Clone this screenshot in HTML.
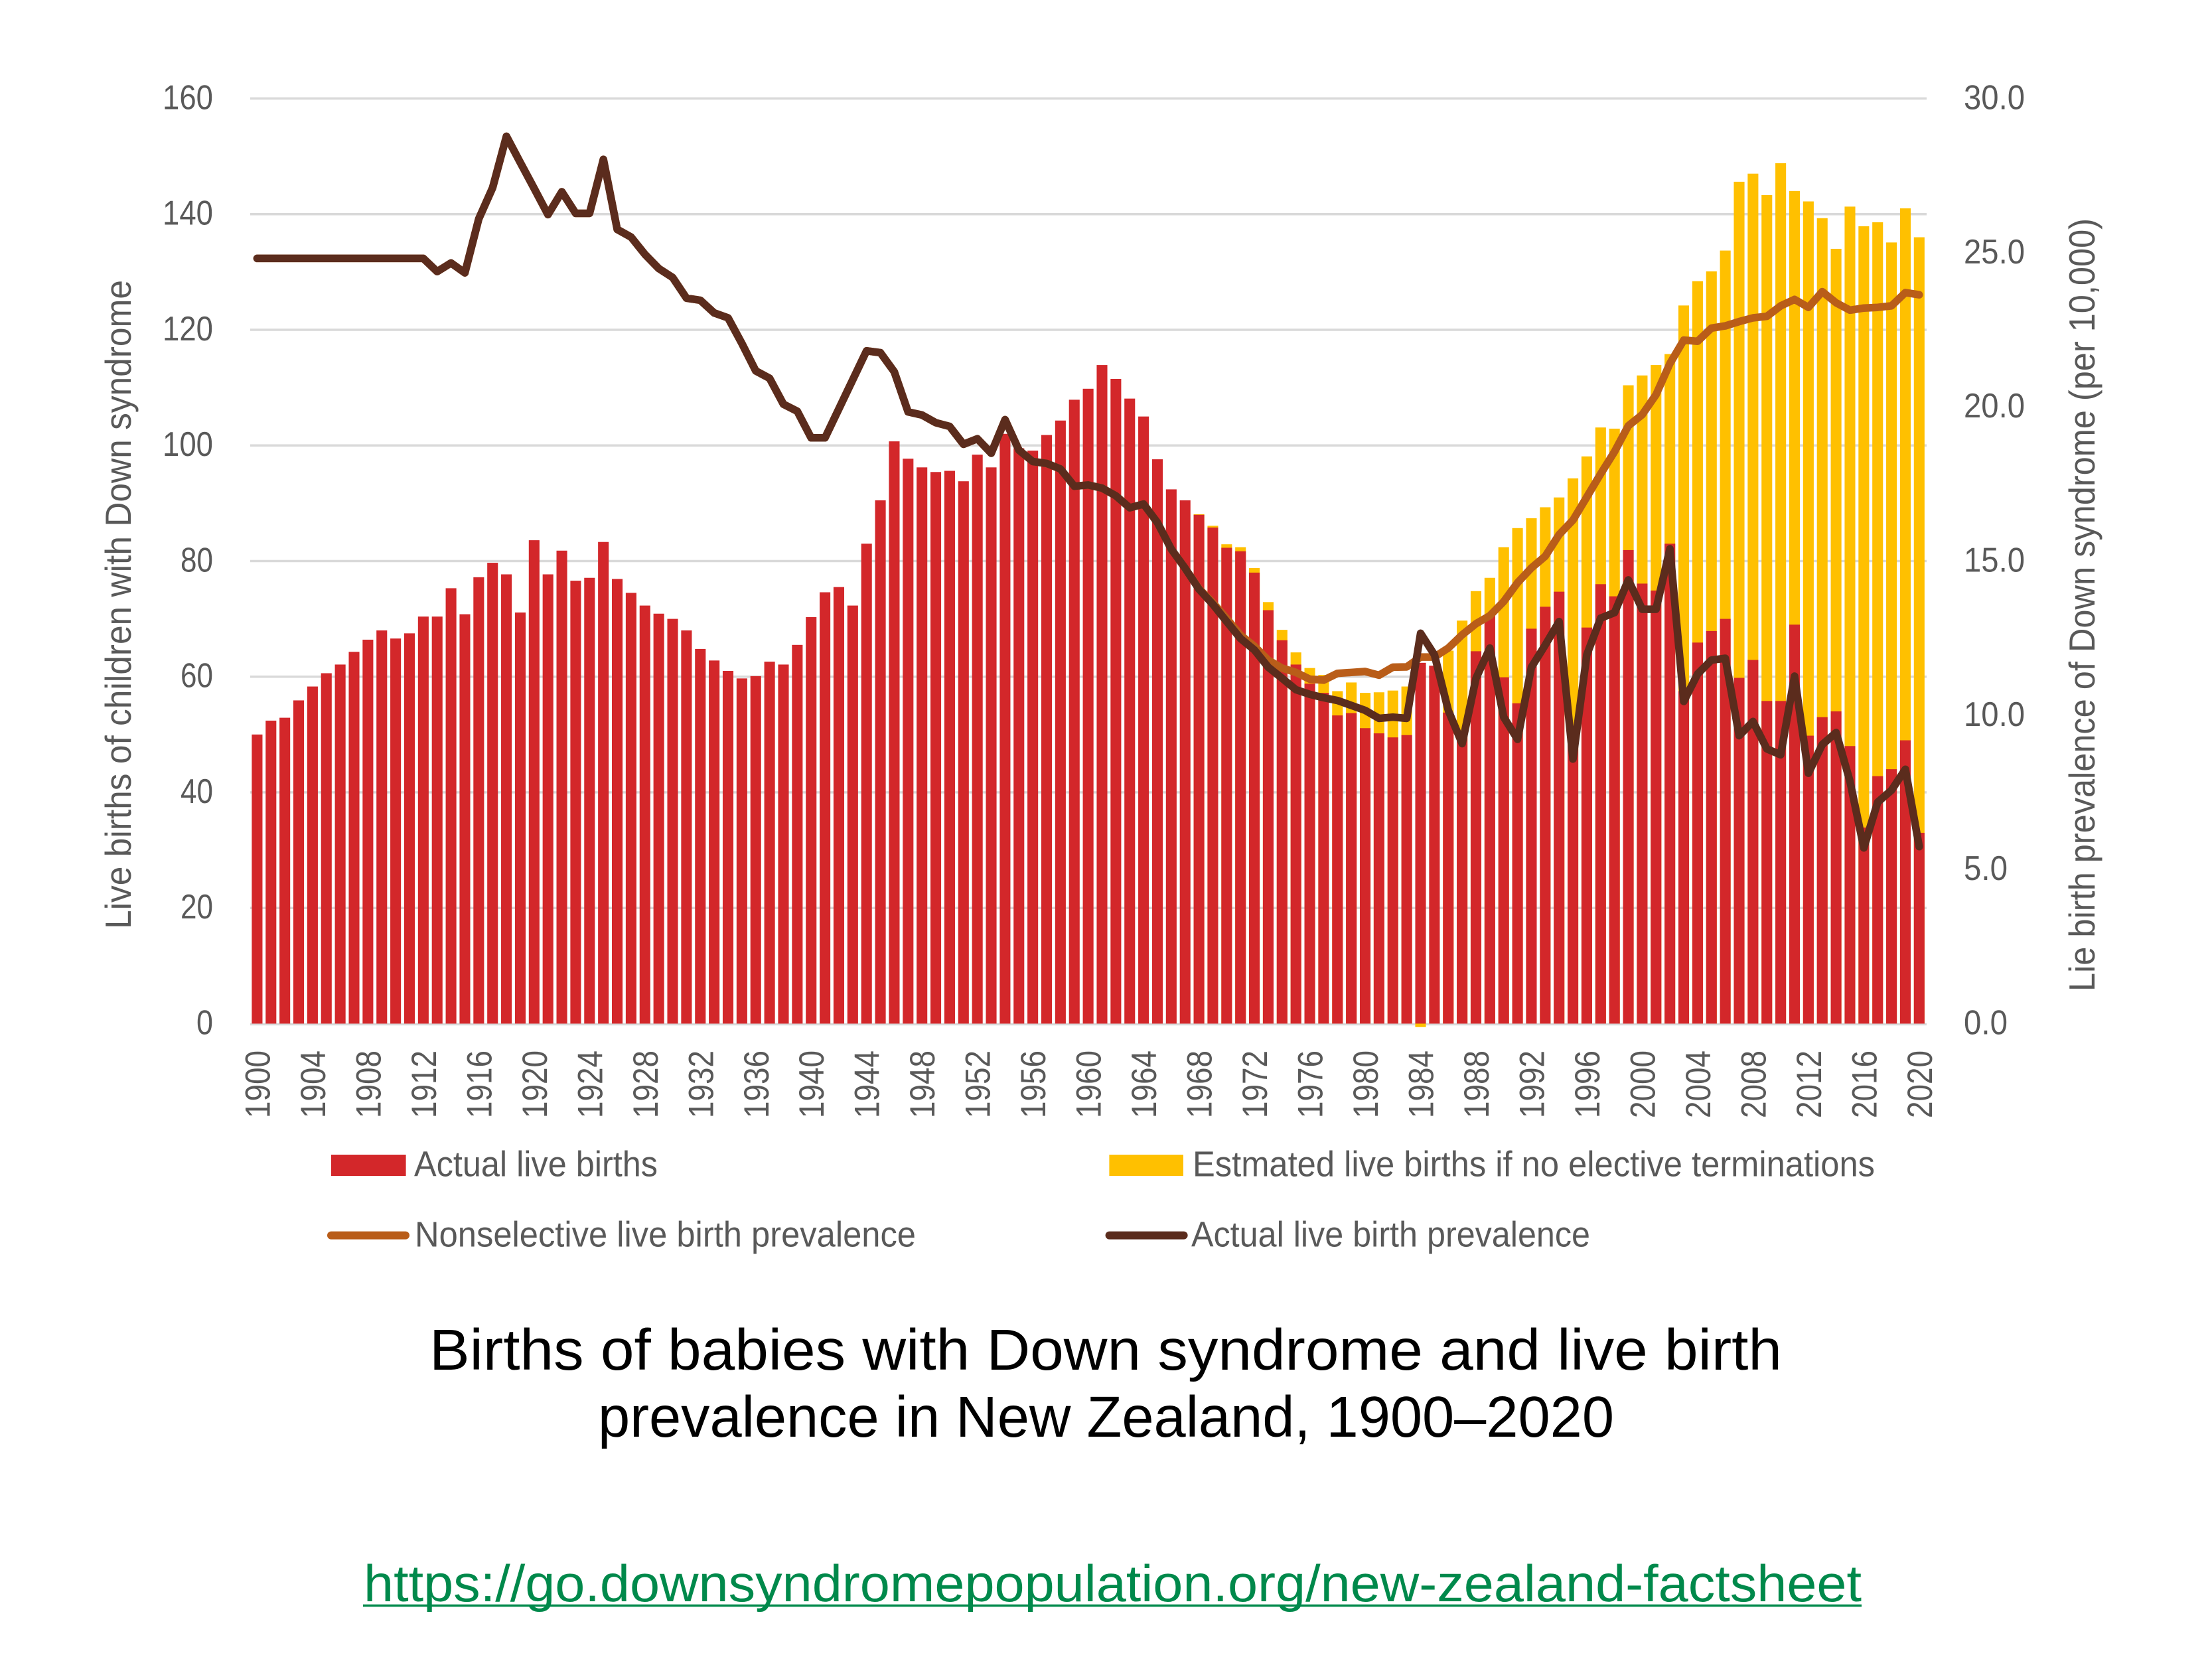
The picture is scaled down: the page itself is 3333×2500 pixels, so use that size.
<!DOCTYPE html>
<html><head><meta charset="utf-8"><style>
html,body{margin:0;padding:0;background:#fff}
svg{display:block}
text{font-family:"Liberation Sans",sans-serif}
.tk{font-size:52px;fill:#595959}
.yr{font-size:53px;fill:#595959}
.lg{font-size:54px;fill:#595959}
.at{font-size:55px;fill:#595959}
</style></head><body>
<svg width="3333" height="2500" viewBox="0 0 3333 2500" xmlns="http://www.w3.org/2000/svg">
<rect width="3333" height="2500" fill="#fff"/>
<!-- gridlines -->
<g stroke="#d9d9d9" stroke-width="3.5">
<line x1="377" x2="2903" y1="148.4" y2="148.4"/>
<line x1="377" x2="2903" y1="322.7" y2="322.7"/>
<line x1="377" x2="2903" y1="497" y2="497"/>
<line x1="377" x2="2903" y1="671.2" y2="671.2"/>
<line x1="377" x2="2903" y1="845.5" y2="845.5"/>
<line x1="377" x2="2903" y1="1019.7" y2="1019.7"/>
<line x1="377" x2="2903" y1="1194" y2="1194"/>
<line x1="377" x2="2903" y1="1368.2" y2="1368.2"/>
<line x1="377" x2="2903" y1="1543.5" y2="1543.5"/>
</g>
<!-- bars -->
<g transform="translate(377 1542.5) scale(20.87 -8.713)">
<g fill="#ffc000">
<rect x="68.114" width=".771" height="88.1"/><rect x="69.114" width=".771" height="86.1"/><rect x="70.114" width=".771" height="82.9"/><rect x="71.114" width=".771" height="82.4"/><rect x="72.114" width=".771" height="78.8"/><rect x="73.114" width=".771" height="72.9"/><rect x="74.114" width=".771" height="68.1"/><rect x="75.114" width=".771" height="64.2"/><rect x="76.114" width=".771" height="61.5"/><rect x="77.114" width=".771" height="60.3"/><rect x="78.114" width=".771" height="57.5"/><rect x="79.114" width=".771" height="59.0"/><rect x="80.114" width=".771" height="57.2"/><rect x="81.114" width=".771" height="57.3"/><rect x="82.114" width=".771" height="57.6"/><rect x="83.114" width=".771" height="58.3"/><rect x="84.114" y="-0.6" width=".771" height="0.6"/><rect x="86.114" width=".771" height="64.5"/><rect x="87.114" width=".771" height="69.7"/><rect x="88.114" width=".771" height="74.8"/><rect x="89.114" width=".771" height="77.1"/><rect x="90.114" width=".771" height="82.4"/><rect x="91.114" width=".771" height="85.7"/><rect x="92.114" width=".771" height="87.4"/><rect x="93.114" width=".771" height="89.3"/><rect x="94.114" width=".771" height="91.0"/><rect x="95.114" width=".771" height="94.3"/><rect x="96.114" width=".771" height="98.1"/><rect x="97.114" width=".771" height="103.1"/><rect x="98.114" width=".771" height="102.9"/><rect x="99.114" width=".771" height="110.4"/><rect x="100.114" width=".771" height="112.1"/><rect x="101.114" width=".771" height="113.9"/><rect x="102.114" width=".771" height="115.8"/><rect x="103.114" width=".771" height="124.2"/><rect x="104.114" width=".771" height="128.4"/><rect x="105.114" width=".771" height="130.1"/><rect x="106.114" width=".771" height="133.7"/><rect x="107.114" width=".771" height="145.6"/><rect x="108.114" width=".771" height="147.0"/><rect x="109.114" width=".771" height="143.3"/><rect x="110.114" width=".771" height="148.8"/><rect x="111.114" width=".771" height="144.0"/><rect x="112.114" width=".771" height="142.2"/><rect x="113.114" width=".771" height="139.3"/><rect x="114.114" width=".771" height="134.0"/><rect x="115.114" width=".771" height="141.3"/><rect x="116.114" width=".771" height="137.9"/><rect x="117.114" width=".771" height="138.6"/><rect x="118.114" width=".771" height="135.1"/><rect x="119.114" width=".771" height="141.0"/><rect x="120.114" width=".771" height="136.0"/>
</g>
<g fill="#d3272a">
<rect x="0.114" width=".771" height="50.0"/><rect x="1.114" width=".771" height="52.4"/><rect x="2.114" width=".771" height="52.9"/><rect x="3.114" width=".771" height="55.9"/><rect x="4.114" width=".771" height="58.3"/><rect x="5.114" width=".771" height="60.6"/><rect x="6.114" width=".771" height="62.1"/><rect x="7.114" width=".771" height="64.3"/><rect x="8.114" width=".771" height="66.4"/><rect x="9.114" width=".771" height="68.0"/>
<rect x="10.114" width=".771" height="66.6"/><rect x="11.114" width=".771" height="67.5"/><rect x="12.114" width=".771" height="70.4"/><rect x="13.114" width=".771" height="70.4"/><rect x="14.114" width=".771" height="75.3"/><rect x="15.114" width=".771" height="70.8"/><rect x="16.114" width=".771" height="77.2"/><rect x="17.114" width=".771" height="79.7"/><rect x="18.114" width=".771" height="77.7"/><rect x="19.114" width=".771" height="71.1"/>
<rect x="20.114" width=".771" height="83.6"/><rect x="21.114" width=".771" height="77.7"/><rect x="22.114" width=".771" height="81.8"/><rect x="23.114" width=".771" height="76.6"/><rect x="24.114" width=".771" height="77.1"/><rect x="25.114" width=".771" height="83.3"/><rect x="26.114" width=".771" height="76.9"/><rect x="27.114" width=".771" height="74.5"/><rect x="28.114" width=".771" height="72.3"/><rect x="29.114" width=".771" height="70.9"/>
<rect x="30.114" width=".771" height="70.0"/><rect x="31.114" width=".771" height="68.0"/><rect x="32.114" width=".771" height="64.8"/><rect x="33.114" width=".771" height="62.8"/><rect x="34.114" width=".771" height="61.0"/><rect x="35.114" width=".771" height="59.7"/><rect x="36.114" width=".771" height="60.1"/><rect x="37.114" width=".771" height="62.6"/><rect x="38.114" width=".771" height="62.1"/><rect x="39.114" width=".771" height="65.5"/>
<rect x="40.114" width=".771" height="70.3"/><rect x="41.114" width=".771" height="74.6"/><rect x="42.114" width=".771" height="75.5"/><rect x="43.114" width=".771" height="72.3"/><rect x="44.114" width=".771" height="83.0"/><rect x="45.114" width=".771" height="90.5"/><rect x="46.114" width=".771" height="100.7"/><rect x="47.114" width=".771" height="97.7"/><rect x="48.114" width=".771" height="96.2"/><rect x="49.114" width=".771" height="95.4"/>
<rect x="50.114" width=".771" height="95.6"/><rect x="51.114" width=".771" height="93.8"/><rect x="52.114" width=".771" height="98.4"/><rect x="53.114" width=".771" height="96.2"/><rect x="54.114" width=".771" height="102.0"/><rect x="55.114" width=".771" height="99.5"/><rect x="56.114" width=".771" height="99.1"/><rect x="57.114" width=".771" height="101.8"/><rect x="58.114" width=".771" height="104.3"/><rect x="59.114" width=".771" height="107.9"/>
<rect x="60.114" width=".771" height="109.8"/><rect x="61.114" width=".771" height="113.9"/><rect x="62.114" width=".771" height="111.5"/><rect x="63.114" width=".771" height="108.1"/><rect x="64.114" width=".771" height="105.0"/><rect x="65.114" width=".771" height="97.6"/><rect x="66.114" width=".771" height="92.4"/><rect x="67.114" width=".771" height="90.5"/><rect x="68.114" width=".771" height="88.0"/><rect x="69.114" width=".771" height="85.8"/>
<rect x="70.114" width=".771" height="82.3"/><rect x="71.114" width=".771" height="81.7"/><rect x="72.114" width=".771" height="78.0"/><rect x="73.114" width=".771" height="71.5"/><rect x="74.114" width=".771" height="66.3"/><rect x="75.114" width=".771" height="62.1"/><rect x="76.114" width=".771" height="58.8"/><rect x="77.114" width=".771" height="57.2"/><rect x="78.114" width=".771" height="53.3"/><rect x="79.114" width=".771" height="53.7"/>
<rect x="80.114" width=".771" height="51.1"/><rect x="81.114" width=".771" height="50.2"/><rect x="82.114" width=".771" height="49.5"/><rect x="83.114" width=".771" height="49.9"/><rect x="84.114" width=".771" height="62.4"/><rect x="85.114" width=".771" height="61.9"/><rect x="86.114" width=".771" height="53.8"/><rect x="87.114" width=".771" height="50.2"/><rect x="88.114" width=".771" height="64.4"/><rect x="89.114" width=".771" height="70.6"/>
<rect x="90.114" width=".771" height="59.9"/><rect x="91.114" width=".771" height="55.4"/><rect x="92.114" width=".771" height="68.3"/><rect x="93.114" width=".771" height="72.1"/><rect x="94.114" width=".771" height="74.7"/><rect x="95.114" width=".771" height="49.5"/><rect x="96.114" width=".771" height="68.5"/><rect x="97.114" width=".771" height="76.0"/><rect x="98.114" width=".771" height="73.9"/><rect x="99.114" width=".771" height="81.9"/>
<rect x="100.114" width=".771" height="76.1"/><rect x="101.114" width=".771" height="74.9"/><rect x="102.114" width=".771" height="83.0"/><rect x="103.114" width=".771" height="57.5"/><rect x="104.114" width=".771" height="65.9"/><rect x="105.114" width=".771" height="67.9"/><rect x="106.114" width=".771" height="70.0"/><rect x="107.114" width=".771" height="59.8"/><rect x="108.114" width=".771" height="62.9"/><rect x="109.114" width=".771" height="55.8"/>
<rect x="110.114" width=".771" height="55.8"/><rect x="111.114" width=".771" height="69.0"/><rect x="112.114" width=".771" height="49.8"/><rect x="113.114" width=".771" height="53.0"/><rect x="114.114" width=".771" height="54.0"/><rect x="115.114" width=".771" height="48.0"/><rect x="116.114" width=".771" height="33.9"/><rect x="117.114" width=".771" height="42.8"/><rect x="118.114" width=".771" height="44.0"/><rect x="119.114" width=".771" height="49.0"/>
<rect x="120.114" width=".771" height="33.0"/>
</g>
</g>
<!-- lines (pixel coordinates) -->
<g fill="none" stroke-linejoin="round" stroke-linecap="round" stroke-width="11.5">
<polyline stroke="#b95d19" points="387.4,389.4 637.9,389.4 658.75,409.3 679.62,396.3 700.49,411.2 721.36,329.9 742.23,283.0 763.10,205.4 783.97,244.9 804.84,283.9 825.71,323.4 846.58,289.0 867.45,321.5 888.32,321.5 909.19,240.2 930.06,345.7 950.93,357.3 971.80,383.3 992.67,404.7 1013.54,418.2 1034.41,449.3 1055.28,452.5 1076.15,471.6 1097.02,479.0 1117.89,517.6 1138.76,558.9 1159.63,570.1 1180.50,609.1 1201.37,619.8 1222.24,659.8 1243.11,659.8 1263.98,616.1 1284.85,572.4 1305.72,528.7 1326.59,531.5 1347.46,560.3 1368.33,620.7 1389.20,625.4 1410.07,637.0 1430.94,642.6 1451.81,669.5 1472.68,661.2 1493.55,683.0 1514.42,632.4 1535.29,678.3 1556.16,695.5 1577.03,698.3 1597.90,706.7 1618.77,732.7 1639.64,730.8 1660.51,735.5 1681.38,747.1 1702.25,765.2 1723.12,759.6 1743.99,787.5 1764.86,827.5 1785.73,856.3 1806.60,887.0 1827.47,908.3 1848.34,932.0 1869.21,957.1 1890.08,973.8 1910.95,994.7 1931.82,1006.8 1952.69,1013.3 1973.56,1023.5 1994.43,1024.9 2015.30,1014.7 2036.17,1013.3 2057.04,1011.9 2077.91,1017.5 2098.78,1005.4 2119.65,1005.0 2140.52,990.1 2161.39,990.1 2182.26,976.6 2203.13,956.6 2224.00,939.9 2244.87,927.8 2265.74,906.5 2286.61,878.1 2307.48,855.8 2328.35,838.2 2349.22,805.6 2370.09,783.8 2390.96,749.0 2411.83,714.1 2432.70,680.7 2453.57,641.6 2474.44,624.9 2495.31,594.7 2516.18,547.8 2537.05,512.5 2557.92,514.3 2578.79,494.4 2599.66,491.1 2620.53,484.6 2641.40,479.0 2662.27,476.7 2683.14,460.9 2704.01,451.2 2724.88,463.2 2745.75,439.5 2766.62,456.3 2787.49,467.4 2808.36,464.2 2829.23,463.2 2850.10,460.9 2870.97,440.9 2891.84,444.2"/>
<polyline stroke="#5b2c1d" points="387.4,389.4 637.9,389.4 658.75,409.3 679.62,396.3 700.49,411.2 721.36,329.9 742.23,283.0 763.10,205.4 783.97,244.9 804.84,283.9 825.71,323.4 846.58,289.0 867.45,321.5 888.32,321.5 909.19,240.2 930.06,345.7 950.93,357.3 971.80,383.3 992.67,404.7 1013.54,418.2 1034.41,449.3 1055.28,452.5 1076.15,471.6 1097.02,479.0 1117.89,517.6 1138.76,558.9 1159.63,570.1 1180.50,609.1 1201.37,619.8 1222.24,659.8 1243.11,659.8 1263.98,616.1 1284.85,572.4 1305.72,528.7 1326.59,531.5 1347.46,560.3 1368.33,620.7 1389.20,625.4 1410.07,637.0 1430.94,642.6 1451.81,669.5 1472.68,661.2 1493.55,683.0 1514.42,632.4 1535.29,678.3 1556.16,695.5 1577.03,698.3 1597.90,706.7 1618.77,732.7 1639.64,730.8 1660.51,735.5 1681.38,747.1 1702.25,765.2 1723.12,759.6 1743.99,787.5 1764.86,827.5 1785.73,856.3 1806.60,887.9 1827.47,910.6 1848.34,936.7 1869.21,962.2 1890.08,979.4 1910.95,1005.4 1931.82,1022.1 1952.69,1039.3 1973.56,1046.3 1994.43,1051.4 2015.30,1055.6 2036.17,1063.0 2057.04,1070.5 2077.91,1082.5 2098.78,1080.7 2119.65,1082.5 2140.52,954.3 2161.39,986.8 2182.26,1070.5 2203.13,1120.6 2224.00,1022.1 2244.87,976.6 2265.74,1080.7 2286.61,1114.1 2307.48,1005.4 2328.35,972.0 2349.22,936.7 2370.09,1143.9 2390.96,986.8 2411.83,931.5 2432.70,923.2 2453.57,873.9 2474.44,918.1 2495.31,918.1 2516.18,827.0 2537.05,1057.0 2557.92,1015.6 2578.79,994.7 2599.66,992.0 2620.53,1108.6 2641.40,1087.2 2662.27,1128.5 2683.14,1137.4 2704.01,1018.9 2724.88,1165.2 2745.75,1122.0 2766.62,1103.9 2787.49,1177.3 2808.36,1277.7 2829.23,1208.9 2850.10,1190.8 2870.97,1159.2 2891.84,1275.8"/>
</g>
<!-- left tick labels -->
<g class="tk" text-anchor="end">
<text x="321" y="164.4" textLength="76" lengthAdjust="spacingAndGlyphs">160</text>
<text x="321" y="338.7" textLength="76" lengthAdjust="spacingAndGlyphs">140</text>
<text x="321" y="513" textLength="76" lengthAdjust="spacingAndGlyphs">120</text>
<text x="321" y="687.2" textLength="76" lengthAdjust="spacingAndGlyphs">100</text>
<text x="321" y="861.5" textLength="49" lengthAdjust="spacingAndGlyphs">80</text>
<text x="321" y="1035.7" textLength="49" lengthAdjust="spacingAndGlyphs">60</text>
<text x="321" y="1210" textLength="49" lengthAdjust="spacingAndGlyphs">40</text>
<text x="321" y="1384.2" textLength="49" lengthAdjust="spacingAndGlyphs">20</text>
<text x="321" y="1558.5" textLength="25" lengthAdjust="spacingAndGlyphs">0</text>
</g>
<!-- right tick labels -->
<g class="tk">
<text x="2959" y="164.5" textLength="92" lengthAdjust="spacingAndGlyphs">30.0</text>
<text x="2959" y="396.8" textLength="92" lengthAdjust="spacingAndGlyphs">25.0</text>
<text x="2959" y="629.1" textLength="92" lengthAdjust="spacingAndGlyphs">20.0</text>
<text x="2959" y="861.5" textLength="92" lengthAdjust="spacingAndGlyphs">15.0</text>
<text x="2959" y="1093.8" textLength="92" lengthAdjust="spacingAndGlyphs">10.0</text>
<text x="2959" y="1326.1" textLength="66" lengthAdjust="spacingAndGlyphs">5.0</text>
<text x="2959" y="1558.5" textLength="66" lengthAdjust="spacingAndGlyphs">0.0</text>
</g>
<!-- year labels -->
<g class="yr" text-anchor="end">
<text transform="translate(387.44 1583) rotate(-90)" y="19" textLength="102" lengthAdjust="spacingAndGlyphs">1900</text>
<text transform="translate(470.92 1583) rotate(-90)" y="19" textLength="102" lengthAdjust="spacingAndGlyphs">1904</text>
<text transform="translate(554.40 1583) rotate(-90)" y="19" textLength="102" lengthAdjust="spacingAndGlyphs">1908</text>
<text transform="translate(637.88 1583) rotate(-90)" y="19" textLength="102" lengthAdjust="spacingAndGlyphs">1912</text>
<text transform="translate(721.36 1583) rotate(-90)" y="19" textLength="102" lengthAdjust="spacingAndGlyphs">1916</text>
<text transform="translate(804.84 1583) rotate(-90)" y="19" textLength="102" lengthAdjust="spacingAndGlyphs">1920</text>
<text transform="translate(888.32 1583) rotate(-90)" y="19" textLength="102" lengthAdjust="spacingAndGlyphs">1924</text>
<text transform="translate(971.80 1583) rotate(-90)" y="19" textLength="102" lengthAdjust="spacingAndGlyphs">1928</text>
<text transform="translate(1055.28 1583) rotate(-90)" y="19" textLength="102" lengthAdjust="spacingAndGlyphs">1932</text>
<text transform="translate(1138.76 1583) rotate(-90)" y="19" textLength="102" lengthAdjust="spacingAndGlyphs">1936</text>
<text transform="translate(1222.24 1583) rotate(-90)" y="19" textLength="102" lengthAdjust="spacingAndGlyphs">1940</text>
<text transform="translate(1305.72 1583) rotate(-90)" y="19" textLength="102" lengthAdjust="spacingAndGlyphs">1944</text>
<text transform="translate(1389.20 1583) rotate(-90)" y="19" textLength="102" lengthAdjust="spacingAndGlyphs">1948</text>
<text transform="translate(1472.68 1583) rotate(-90)" y="19" textLength="102" lengthAdjust="spacingAndGlyphs">1952</text>
<text transform="translate(1556.16 1583) rotate(-90)" y="19" textLength="102" lengthAdjust="spacingAndGlyphs">1956</text>
<text transform="translate(1639.64 1583) rotate(-90)" y="19" textLength="102" lengthAdjust="spacingAndGlyphs">1960</text>
<text transform="translate(1723.12 1583) rotate(-90)" y="19" textLength="102" lengthAdjust="spacingAndGlyphs">1964</text>
<text transform="translate(1806.60 1583) rotate(-90)" y="19" textLength="102" lengthAdjust="spacingAndGlyphs">1968</text>
<text transform="translate(1890.08 1583) rotate(-90)" y="19" textLength="102" lengthAdjust="spacingAndGlyphs">1972</text>
<text transform="translate(1973.56 1583) rotate(-90)" y="19" textLength="102" lengthAdjust="spacingAndGlyphs">1976</text>
<text transform="translate(2057.04 1583) rotate(-90)" y="19" textLength="102" lengthAdjust="spacingAndGlyphs">1980</text>
<text transform="translate(2140.52 1583) rotate(-90)" y="19" textLength="102" lengthAdjust="spacingAndGlyphs">1984</text>
<text transform="translate(2224.00 1583) rotate(-90)" y="19" textLength="102" lengthAdjust="spacingAndGlyphs">1988</text>
<text transform="translate(2307.48 1583) rotate(-90)" y="19" textLength="102" lengthAdjust="spacingAndGlyphs">1992</text>
<text transform="translate(2390.96 1583) rotate(-90)" y="19" textLength="102" lengthAdjust="spacingAndGlyphs">1996</text>
<text transform="translate(2474.44 1583) rotate(-90)" y="19" textLength="102" lengthAdjust="spacingAndGlyphs">2000</text>
<text transform="translate(2557.92 1583) rotate(-90)" y="19" textLength="102" lengthAdjust="spacingAndGlyphs">2004</text>
<text transform="translate(2641.40 1583) rotate(-90)" y="19" textLength="102" lengthAdjust="spacingAndGlyphs">2008</text>
<text transform="translate(2724.88 1583) rotate(-90)" y="19" textLength="102" lengthAdjust="spacingAndGlyphs">2012</text>
<text transform="translate(2808.36 1583) rotate(-90)" y="19" textLength="102" lengthAdjust="spacingAndGlyphs">2016</text>
<text transform="translate(2891.84 1583) rotate(-90)" y="19" textLength="102" lengthAdjust="spacingAndGlyphs">2020</text>
</g>
<!-- axis titles -->
<text class="at" transform="translate(197 911) rotate(-90)" text-anchor="middle" textLength="978" lengthAdjust="spacingAndGlyphs">Live births of children with Down syndrome</text>
<text class="at" transform="translate(3156 911.5) rotate(-90)" text-anchor="middle" textLength="1165" lengthAdjust="spacingAndGlyphs">Lie birth prevalence of Down syndrome (per 10,000)</text>
<!-- legend -->
<rect x="499" y="1740" width="112.6" height="32" fill="#d3272a"/>
<rect x="1671.4" y="1740" width="111.6" height="32" fill="#ffc000"/>
<line x1="499" y1="1861.6" x2="611" y2="1861.6" stroke="#b95d19" stroke-width="12" stroke-linecap="round"/>
<line x1="1671.6" y1="1861.6" x2="1783.6" y2="1861.6" stroke="#5b2c1d" stroke-width="12" stroke-linecap="round"/>
<g class="lg">
<text x="624" y="1772.5" textLength="367" lengthAdjust="spacingAndGlyphs">Actual live births</text>
<text x="1797" y="1772.5" textLength="1028" lengthAdjust="spacingAndGlyphs">Estmated live births if no elective terminations</text>
<text x="625" y="1878.5" textLength="755" lengthAdjust="spacingAndGlyphs">Nonselective live birth prevalence</text>
<text x="1795" y="1878.5" textLength="601" lengthAdjust="spacingAndGlyphs">Actual live birth prevalence</text>
</g>
<!-- title -->
<g style="font-size:87px" fill="#000">
<text x="647" y="2064" textLength="2038" lengthAdjust="spacingAndGlyphs">Births of babies with Down syndrome and live birth</text>
<text x="901" y="2165" textLength="1531" lengthAdjust="spacingAndGlyphs">prevalence in New Zealand, 1900–2020</text>
</g>
<!-- url -->
<text x="548" y="2413" style="font-size:78px" fill="#00894b" textLength="2257" lengthAdjust="spacingAndGlyphs">https://go.downsyndromepopulation.org/new-zealand-factsheet</text>
<line x1="547" y1="2419.5" x2="2805" y2="2419.5" stroke="#00894b" stroke-width="3.5"/>
</svg>
</body></html>
